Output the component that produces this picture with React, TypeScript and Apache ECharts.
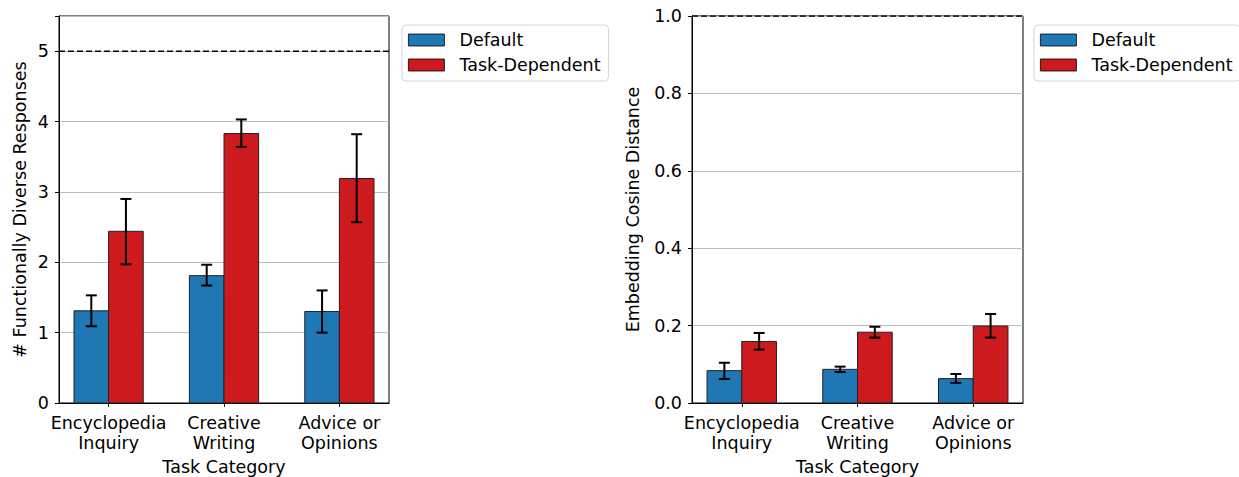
import React, { useEffect, useRef } from "react";
import * as echarts from "echarts";

const categories = ["Encyclopedia\nInquiry", "Creative\nWriting", "Advice or\nOpinions"];
const seriesNames = ["Default", "Task-Dependent"];

// Left: # functionally diverse responses
const countDefault = [1.31, 1.81, 1.30];
const countDefaultLow = [1.09, 1.67, 1.00];
const countDefaultHigh = [1.53, 1.965, 1.60];
const countTask = [2.44, 3.83, 3.19];
const countTaskLow = [1.97, 3.64, 2.57];
const countTaskHigh = [2.90, 4.03, 3.82];
const maxResponses = 5;

// Right: embedding cosine distance
const distDefault = [0.0836, 0.087, 0.063];
const distDefaultLow = [0.062, 0.080, 0.052];
const distDefaultHigh = [0.104, 0.094, 0.075];
const distTask = [0.159, 0.183, 0.199];
const distTaskLow = [0.138, 0.169, 0.169];
const distTaskHigh = [0.181, 0.197, 0.230];
const maxDistance = 1.0;

const COLORS = ["#1f77b4", "#cc1a1f"];
const BAR_W = 0.3;
const X_MIN = -0.43;
const X_MAX = 2.43;
const FONT = "DejaVu Sans";
const FS = 17.5;

function barSeries(name: string, vals: number[], offset: number, color: string, idx: number) {
  return {
    type: "custom",
    name,
    xAxisIndex: idx,
    yAxisIndex: idx,
    itemStyle: { color },
    encode: { x: 0, y: 1 },
    data: vals.map((v, i) => [i, v]),
    renderItem: (params: any, api: any) => {
      const x = api.value(0);
      const v = api.value(1);
      const p0 = api.coord([x + offset - BAR_W / 2, v]);
      const p1 = api.coord([x + offset + BAR_W / 2, 0]);
      return {
        type: "rect",
        shape: { x: p0[0], y: p0[1], width: p1[0] - p0[0], height: p1[1] - p0[1] },
        style: { fill: color, stroke: "#222", lineWidth: 1 },
      };
    },
    z: 3,
  };
}

function errSeries(low: number[], high: number[], offset: number, idx: number) {
  return {
    type: "custom",
    name: "err" + idx + offset,
    xAxisIndex: idx,
    yAxisIndex: idx,
    encode: { x: 0, y: [1, 2] },
    data: low.map((l, i) => [i, l, high[i]]),
    renderItem: (params: any, api: any) => {
      const x = api.value(0) + offset;
      const lo = api.coord([x, api.value(1)]);
      const hi = api.coord([x, api.value(2)]);
      const cap = 5.5;
      const st = { stroke: "#000", lineWidth: 2 };
      return {
        type: "group",
        children: [
          { type: "line", shape: { x1: lo[0], y1: lo[1], x2: hi[0], y2: hi[1] }, style: st },
          { type: "line", shape: { x1: lo[0] - cap, y1: lo[1], x2: lo[0] + cap, y2: lo[1] }, style: st },
          { type: "line", shape: { x1: hi[0] - cap, y1: hi[1], x2: hi[0] + cap, y2: hi[1] }, style: st },
        ],
      };
    },
    z: 5,
  };
}

function refLine(value: number, idx: number) {
  return {
    type: "line",
    name: "ref" + idx,
    xAxisIndex: idx,
    yAxisIndex: idx,
    data: [[X_MIN, value], [X_MAX, value]],
    symbol: "none",
    lineStyle: { color: "#000", type: [6, 3], width: 1.5 },
    z: 4,
    silent: true,
  };
}

function xAxis(idx: number) {
  return {
    type: "value",
    gridIndex: idx,
    min: X_MIN,
    max: X_MAX,
    name: "Task Category",
    nameLocation: "middle",
    nameGap: 55,
    nameTextStyle: { fontSize: FS, color: "#000", fontFamily: FONT },
    axisLine: { show: true, onZero: false, lineStyle: { color: "#000", width: 1 } },
    axisTick: { show: true, customValues: [0, 1, 2], length: 4, lineStyle: { color: "#000", width: 1 } },
    axisLabel: {
      customValues: [0, 1, 2],
      formatter: (v: number) => categories[Math.round(v)] ?? "",
      fontSize: FS,
      lineHeight: 20,
      color: "#000",
      fontFamily: FONT,
      margin: 10,
    },
    splitLine: { show: false },
  };
}

function yAxisBase(idx: number, name: string, max: number, interval: number, gap: number, fmt: (v: number) => string) {
  return {
    type: "value",
    gridIndex: idx,
    min: 0,
    max,
    interval,
    name,
    nameLocation: "middle",
    nameGap: gap,
    nameTextStyle: { fontSize: FS, color: "#000", fontFamily: FONT },
    axisLine: { show: true, onZero: false, lineStyle: { color: "#000", width: 1 } },
    axisTick: { show: true, length: 4, lineStyle: { color: "#000" } },
    axisLabel: { fontSize: FS, color: "#000", fontFamily: FONT, margin: 10, formatter: fmt },
    splitLine: { show: true, lineStyle: { color: "#bdbdbd", width: 1.1 } },
  };
}

function legend(left: number) {
  return {
    orient: "vertical",
    left,
    top: 25,
    icon: "rect",
    itemWidth: 36,
    itemHeight: 12,
    itemGap: 7,
    padding: [6, 8, 7, 6],
    borderColor: "#d6d6d6",
    borderWidth: 1,
    borderRadius: 4,
    textStyle: { fontSize: FS, lineHeight: 18, color: "#000", fontFamily: FONT, padding: [0, 0, 0, 10] },
    data: seriesNames.map((n, i) => ({
      name: n,
      itemStyle: { color: COLORS[i], borderColor: "#000", borderWidth: 0.8 },
    })),
    selectedMode: false,
  };
}

export default function App() {
  const ref = useRef<HTMLDivElement>(null);
  useEffect(() => {
    if (!ref.current) return;
    const chart = echarts.init(ref.current, null, { renderer: "svg" });
    const gridStyle = {
      show: true,
      borderColor: "#000",
      borderWidth: 1,
      backgroundColor: "transparent",
      containLabel: false,
      outerBoundsMode: "none",
    };
    chart.setOption({
      animation: false,
      backgroundColor: "#fff",
      textStyle: { fontFamily: FONT },
      grid: [
        { ...gridStyle, left: 59, top: 16, width: 330, height: 387 },
        { ...gridStyle, left: 692, top: 16, width: 331, height: 387 },
      ],
      legend: [legend(402), legend(1034)],
      xAxis: [xAxis(0), xAxis(1)],
      yAxis: [
        yAxisBase(0, "# Functionally Diverse Responses", 5.5, 1, 30, (v: number) => (Number.isInteger(v) ? String(v) : "")),
        yAxisBase(1, "Embedding Cosine Distance", 1, 0.2, 50, (v: number) => v.toFixed(1)),
      ],
      series: [
        barSeries(seriesNames[0], countDefault, -0.15, COLORS[0], 0),
        barSeries(seriesNames[1], countTask, 0.15, COLORS[1], 0),
        errSeries(countDefaultLow, countDefaultHigh, -0.15, 0),
        errSeries(countTaskLow, countTaskHigh, 0.15, 0),
        refLine(maxResponses, 0),
        barSeries(seriesNames[0], distDefault, -0.15, COLORS[0], 1),
        barSeries(seriesNames[1], distTask, 0.15, COLORS[1], 1),
        errSeries(distDefaultLow, distDefaultHigh, -0.15, 1),
        errSeries(distTaskLow, distTaskHigh, 0.15, 1),
        refLine(maxDistance, 1),
      ],
    });
    return () => chart.dispose();
  }, []);
  return (
    <div
      ref={ref}
      style={{ position: "fixed", left: 0, top: 0, width: 1239, height: 477, background: "#fff" }}
    />
  );
}
